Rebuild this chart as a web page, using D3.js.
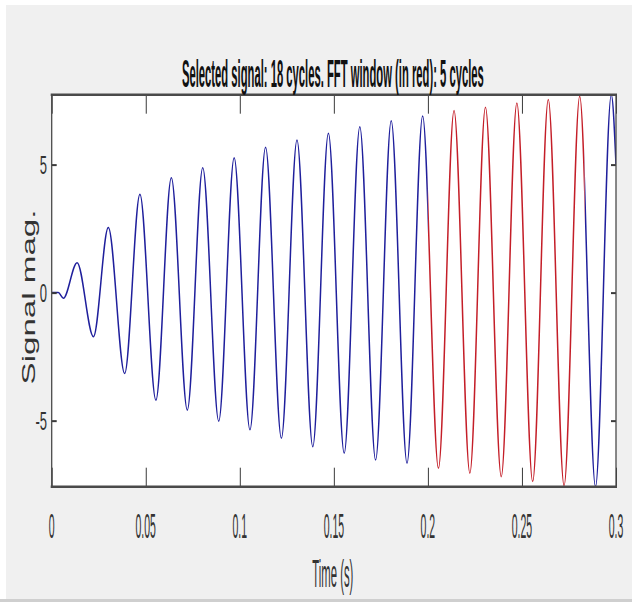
<!DOCTYPE html>
<html><head><meta charset="utf-8">
<script src="https://cdn.jsdelivr.net/npm/d3@7"></script>
<style>html,body{margin:0;padding:0;background:#f0f0f0;} svg{display:block}</style>
</head><body>
<svg id="chart" width="632" height="602"></svg>
<script>
// ---- data ----
const titleText = "Selected signal: 18 cycles. FFT window (in red): 5 cycles";
const xLabelText = "Time (s)";
const yLabelText = "Signal mag.";
const xTicks = [0, 0.05, 0.1, 0.15, 0.2, 0.25, 0.3];
const xTickLabels = ["0", "0.05", "0.1", "0.15", "0.2", "0.25", "0.3"];
const yTicks = [-5, 0, 5];
const yTickLabels = ["-5", "0", "5"];
const xDomain = [0, 0.3];
const yDomain = [-7.58, 7.73];
const fftWindow = [0.2, 0.2833];

const onsetTimes  = [0, 0.0035, 0.0062];
const onsetValues = [0, 0, -0.22];
const peakTimes  = [0.0135, 0.0301, 0.0469, 0.0636, 0.0803, 0.0970, 0.1137, 0.1304, 0.1471,
                    0.1638, 0.1805, 0.1972, 0.2139, 0.2306, 0.2473, 0.2640, 0.2807, 0.2975];
const peakValues = [1.17, 2.54, 3.84, 4.49, 4.88, 5.27, 5.68, 5.96, 6.22,
                    6.48, 6.71, 6.90, 7.11, 7.24, 7.41, 7.54, 7.67, 7.73];
const troughTimes  = [0.0222, 0.0388, 0.0554, 0.0721, 0.0888, 0.1054, 0.1221, 0.1388, 0.1555,
                      0.1722, 0.1889, 0.2056, 0.2223, 0.2390, 0.2557, 0.2724, 0.2891];
const troughValues = [-1.72, -3.16, -4.20, -4.59, -5.02, -5.36, -5.69, -6.02, -6.27,
                      -6.54, -6.66, -6.86, -7.05, -7.19, -7.38, -7.54, -7.58];
const endTimes  = [0.3];
const endValues = [5.0];

// ---- assemble points ----
const pts = [];
onsetTimes.forEach((t, i) => pts.push({t, v: onsetValues[i]}));
peakTimes.forEach((t, i) => pts.push({t, v: peakValues[i]}));
troughTimes.forEach((t, i) => pts.push({t, v: troughValues[i]}));
endTimes.forEach((t, i) => pts.push({t, v: endValues[i]}));
pts.sort((a, b) => a.t - b.t);

// ---- layout ----
const W = 632, H = 602;
const L = 51.7, R = 616, T = 94.7, B = 486.7;
const svg = d3.select("#chart");

svg.append("rect").attr("width", W).attr("height", H).attr("fill", "#f0f0f0");
svg.append("rect").attr("width", W).attr("height", 5).attr("fill", "#ffffff");
svg.append("rect").attr("width", 6).attr("height", H).attr("fill", "#ffffff");
svg.append("rect").attr("x", 0).attr("y", 599).attr("width", W).attr("height", 3).attr("fill", "#cfcfcf");

const x = d3.scaleLinear().domain(xDomain).range([L, R]);
const y = d3.scaleLinear().domain(yDomain).range([B, T]);

svg.append("rect").attr("x", L).attr("y", T).attr("width", R - L).attr("height", B - T).attr("fill", "#ffffff");

// clip paths: FFT window (red) and the parts outside it (blue)
const defs = svg.append("defs");
const xa = x(fftWindow[0]), xb = x(fftWindow[1]);
const outside = defs.append("clipPath").attr("id", "outclip");
outside.append("rect").attr("x", L).attr("y", T - 2).attr("width", xa - L).attr("height", B - T + 4);
outside.append("rect").attr("x", xb).attr("y", T - 2).attr("width", R - xb).attr("height", B - T + 4);
defs.append("clipPath").attr("id", "fftclip").append("rect")
  .attr("x", xa).attr("y", T - 2).attr("width", xb - xa).attr("height", B - T + 4);

const line = d3.line().x(d => x(d.t)).y(d => y(d.v)).curve(d3.curveMonotoneX);

svg.append("path").datum(pts).attr("d", line)
  .attr("fill", "none").attr("stroke", "#1f1f9c").attr("stroke-width", 1.5)
  .attr("clip-path", "url(#outclip)");
svg.append("path").datum(pts).attr("d", line)
  .attr("fill", "none").attr("stroke", "#c41e28").attr("stroke-width", 1.5)
  .attr("clip-path", "url(#fftclip)");

// axes via d3 axis generators (inward ticks, box style)
const axBottom = svg.append("g").attr("transform", `translate(0,${B})`)
  .call(d3.axisBottom(x).tickValues(xTicks).tickSizeInner(-19).tickSizeOuter(0).tickFormat(""));
const axTop = svg.append("g").attr("transform", `translate(0,${T})`)
  .call(d3.axisTop(x).tickValues(xTicks).tickSizeInner(-19).tickSizeOuter(0).tickFormat(""));
const axLeft = svg.append("g").attr("transform", `translate(${L},0)`)
  .call(d3.axisLeft(y).tickValues(yTicks).tickSizeInner(-5).tickSizeOuter(0).tickFormat(""));
const axRight = svg.append("g").attr("transform", `translate(${R},0)`)
  .call(d3.axisRight(y).tickValues(yTicks).tickSizeInner(-5).tickSizeOuter(0).tickFormat(""));
[axBottom, axTop, axLeft, axRight].forEach(g => g.select(".domain").remove());
[axBottom, axTop].forEach(g => g.selectAll(".tick line").attr("stroke", "#3a3a3a").attr("stroke-width", 1));
[axLeft, axRight].forEach(g => g.selectAll(".tick line").attr("stroke", "#3a3a3a").attr("stroke-width", 2));

// box border
svg.append("line").attr("x1", L - 1).attr("x2", R + 1).attr("y1", T).attr("y2", T).attr("stroke", "#4a4a4a").attr("stroke-width", 2.5);
svg.append("line").attr("x1", L - 1).attr("x2", R + 1).attr("y1", B).attr("y2", B).attr("stroke", "#4a4a4a").attr("stroke-width", 2.5);
svg.append("line").attr("x1", L).attr("x2", L).attr("y1", T).attr("y2", B).attr("stroke", "#4a4a4a").attr("stroke-width", 1.3);
svg.append("line").attr("x1", R).attr("x2", R).attr("y1", T).attr("y2", B).attr("stroke", "#4a4a4a").attr("stroke-width", 1.3);

const FONT = "'Liberation Sans', Arial, sans-serif";

// helper: scale a text horizontally (along its direction) to a target width
function fitText(sel, cx, cy, targetW, rot) {
  const w = sel.node().getComputedTextLength();
  const s = targetW / w;
  sel.attr("x", null).attr("y", null)
     .attr("transform", `translate(${cx},${cy})${rot ? ` rotate(${rot})` : ""} scale(${s},1)`);
}

// x tick labels
svg.append("g").selectAll("text").data(xTicks).join("text")
  .attr("transform", d => `translate(${x(d)},538) scale(0.3,1)`)
  .attr("text-anchor", "middle")
  .attr("font-family", FONT).attr("font-size", 35).attr("fill", "#333")
  .text((d, i) => xTickLabels[i]);

// y tick labels
svg.append("g").selectAll("text").data(yTicks).join("text")
  .attr("transform", d => `translate(47,${y(d)}) scale(0.5,1)`)
  .attr("text-anchor", "end").attr("dy", "0.35em")
  .attr("font-family", FONT).attr("font-size", 26).attr("fill", "#333")
  .text((d, i) => yTickLabels[i]);

// title
const title = svg.append("text")
  .attr("text-anchor", "middle")
  .attr("font-family", FONT).attr("font-weight", "bold").attr("font-size", 38).attr("fill", "#111")
  .text(titleText);
fitText(title, (L + R) / 2 - 1, 87, 302);

// x label
const xl = svg.append("text")
  .attr("text-anchor", "middle")
  .attr("font-family", FONT).attr("font-size", 38).attr("fill", "#333")
  .text(xLabelText);
fitText(xl, (L + R) / 2 - 1, 587, 41);

// y label
const yl = svg.append("text")
  .attr("text-anchor", "middle")
  .attr("font-family", FONT).attr("font-size", 18).attr("fill", "#333")
  .text(yLabelText);
fitText(yl, 35, 297, 175, -90);
</script>
</body></html>
